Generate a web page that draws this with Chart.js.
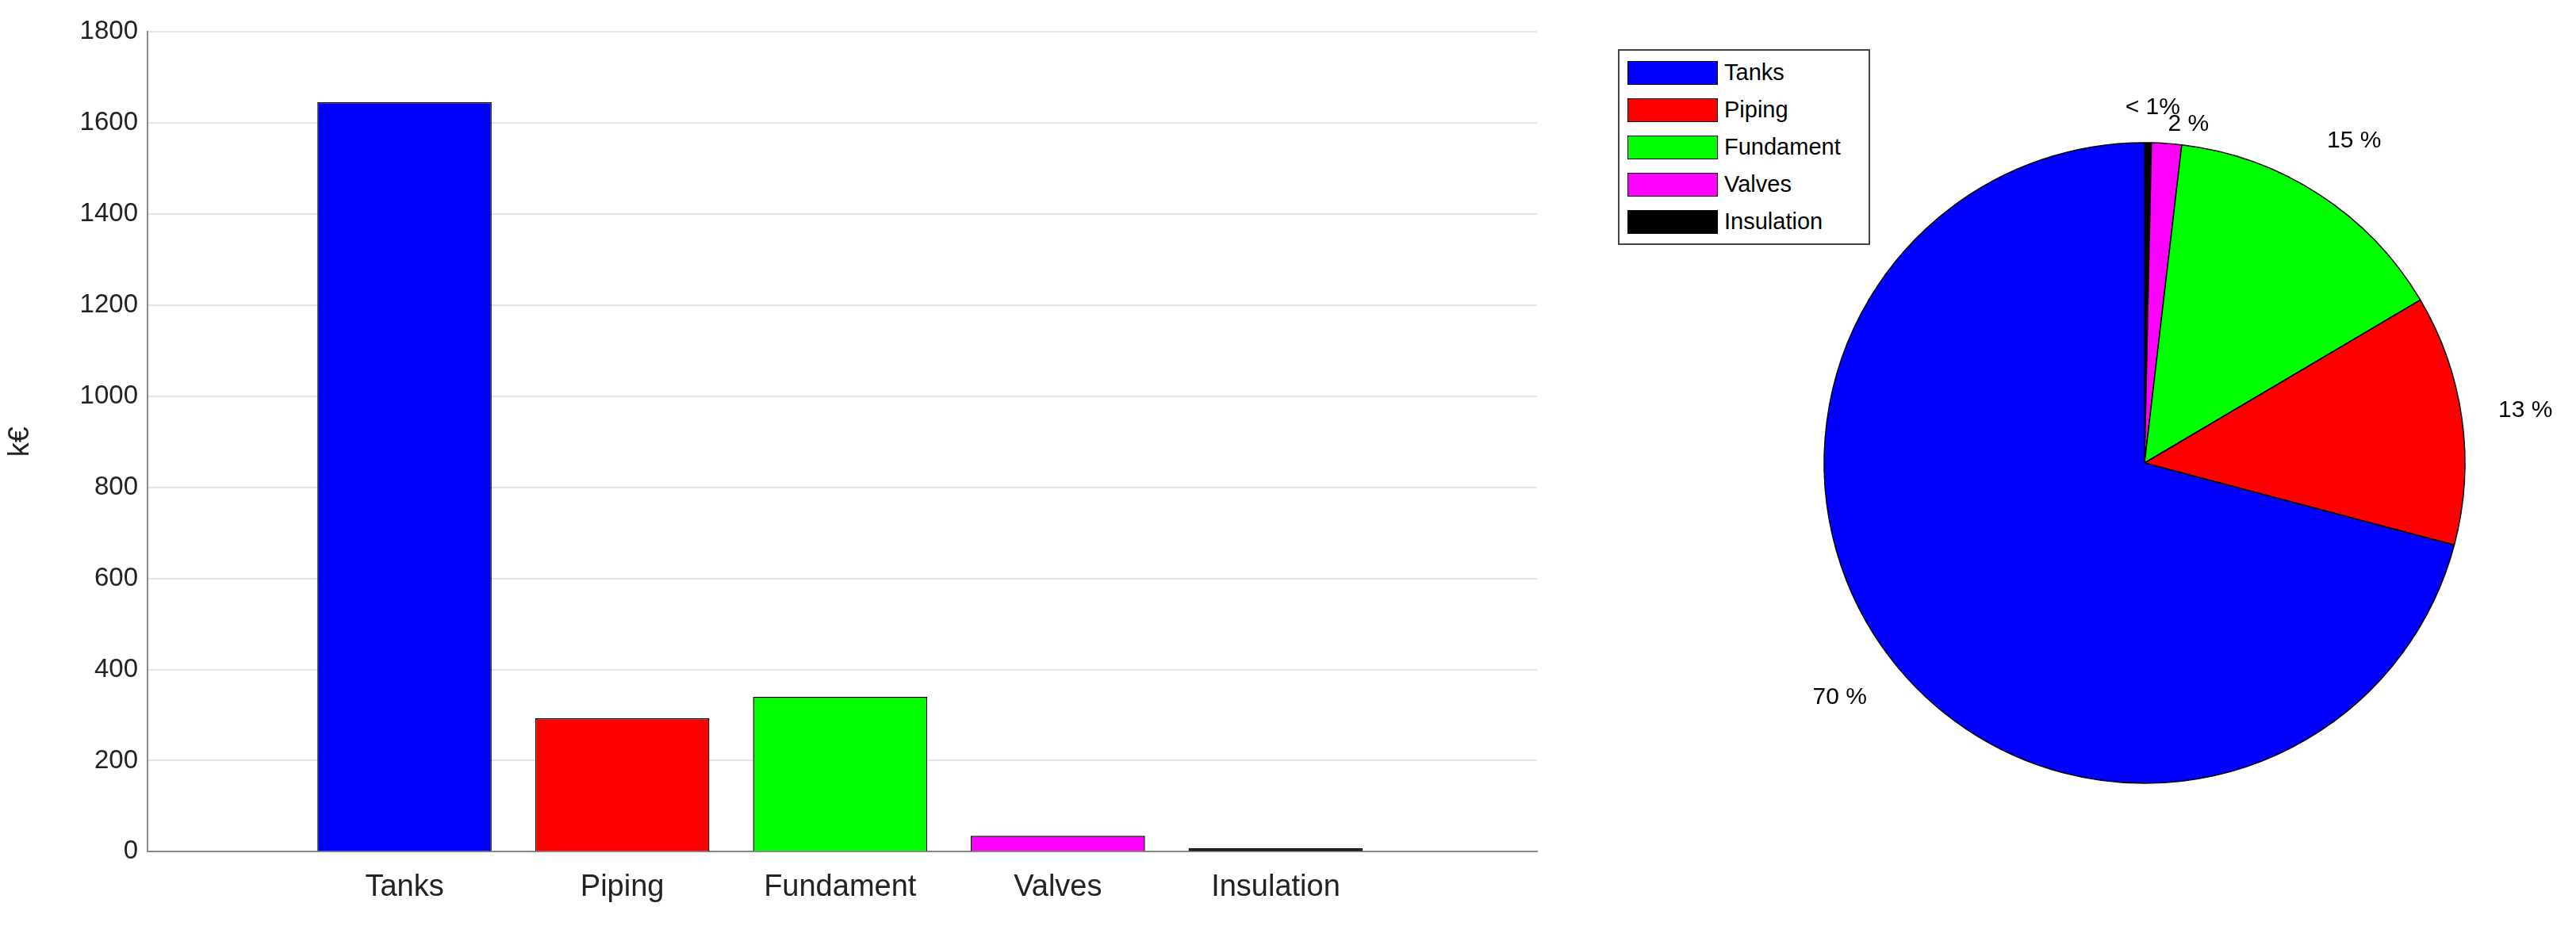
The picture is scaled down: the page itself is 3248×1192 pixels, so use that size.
<!DOCTYPE html>
<html>
<head>
<meta charset="utf-8">
<script src="https://cdn.jsdelivr.net/npm/chart.js@4"></script>
<style>
  body { margin: 0; background: #fff; font-family: Arial, "Liberation Sans", sans-serif; }
  #wrap { position: relative; width: 3248px; height: 1192px; }
  #barBox { position: absolute; left: 0; top: 0; width: 1990px; height: 1192px; }
  #pieBox { position: absolute; left: 2154px; top: 34px; width: 1100px; height: 1100px; }
  #legend { position: absolute; left: 2040px; top: 62px; width: 314px; border: 2px solid #444;
            background: #fff; z-index: 2; padding: 4px 0; }
  .row { display: flex; align-items: center; height: 47px; font-size: 29px; color: #000; }
  .sw { width: 112px; height: 28px; border: 1px solid #000; margin: 0 8px 0 10px; }
</style>
</head>
<body>
<div id="wrap">
  <div id="barBox"><canvas id="barChart"></canvas></div>
  <div id="pieBox"><canvas id="pieChart"></canvas></div>
  <div id="legend"></div>
</div>
<script>
const categories = ['Tanks', 'Piping', 'Fundament', 'Valves', 'Insulation'];
const costs = [1645, 293, 340, 35, 8];
const colors = ['#0000ff', '#ff0000', '#00ff00', '#ff00ff', '#000000'];
const pieLabels = ['70 %', '13 %', '15 %', '2 %', '< 1%'];
const yTicks = [0, 200, 400, 600, 800, 1000, 1200, 1400, 1600, 1800];

// bar chart on a linear x axis so the margins match the original
new Chart(document.getElementById('barChart'), {
    type: 'bar',
    data: {
        datasets: [{
            data: costs.map((v, i) => ({ x: i + 1, y: v })),
            backgroundColor: colors,
            borderColor: '#000',
            borderWidth: 1.5,
            categoryPercentage: 0.8,
            barPercentage: 1
        }]
    },
    options: {
        responsive: true, maintainAspectRatio: false, animation: false,
        layout: { padding: { top: 40, right: 52, bottom: 36, left: 0 } },
        plugins: { legend: { display: false }, tooltip: { enabled: false } },
        scales: {
            x: {
                type: 'linear', min: -0.18, max: 6.2, offset: false,
                afterBuildTicks: axis => { axis.ticks = categories.map((c, i) => ({ value: i + 1 })); },
                ticks: { callback: v => categories[v - 1], color: '#222', font: { size: 38 }, padding: 14 },
                grid: { display: false, offset: false },
                border: { color: '#888', width: 2 }
            },
            y: {
                min: 0, max: 1800,
                afterBuildTicks: axis => { axis.ticks = yTicks.map(v => ({ value: v })); },
                afterFit: axis => { axis.width = 186; },
                ticks: { callback: v => String(v), color: '#222', font: { size: 33 }, padding: 12 },
                title: { display: true, text: 'k€', color: '#222', font: { size: 36 } },
                grid: { color: '#e6e6e6', lineWidth: 2, tickLength: 0 },
                border: { color: '#888', width: 2 }
            }
        }
    }
});

// reversed order so slices run counter-clockwise from the top
const pieData = {
    labels: pieLabels.slice().reverse(),
    values: costs.slice().reverse(),
    colors: colors.slice().reverse()
};

// percent labels outside the pie
const pieText = {
    id: 'pieText',
    afterDatasetsDraw(chart) {
        const ctx = chart.ctx;
        const meta = chart.getDatasetMeta(0);
        ctx.save();
        ctx.font = '30px Arial, "Liberation Sans", sans-serif';
        ctx.fillStyle = '#000';
        ctx.textBaseline = 'middle';
        meta.data.forEach((arc, i) => {
            const a = (arc.startAngle + arc.endAngle) / 2;
            let r = arc.outerRadius * 1.2;
            ctx.textAlign = 'center';
            // the two thin slices at the top would overlap
            if (Math.abs(Math.cos(a)) < 0.15) {
                ctx.textAlign = i === 0 ? 'right' : 'left';
                r = arc.outerRadius * (i === 0 ? 1.11 : 1.06);
            }
            const dx = i === 0 ? 40 : 0;
            ctx.fillText(pieData.labels[i], arc.x + Math.cos(a) * r + dx, arc.y + Math.sin(a) * r);
        });
        ctx.restore();
    }
};

new Chart(document.getElementById('pieChart'), {
    type: 'pie',
    data: {
        labels: pieData.labels,
        datasets: [{
            data: pieData.values,
            backgroundColor: pieData.colors,
            borderColor: '#000',
            borderWidth: 1.5
        }]
    },
    options: {
        responsive: true, maintainAspectRatio: false, animation: false,
        radius: 404,
        layout: { padding: 0 },
        plugins: { legend: { display: false }, tooltip: { enabled: false } }
    },
    plugins: [pieText]
});

const legend = document.getElementById('legend');
categories.forEach((c, i) => {
    const row = document.createElement('div');
    row.className = 'row';
    row.innerHTML = '<div class="sw" style="background:' + colors[i] + '"></div><span>' + c + '</span>';
    legend.appendChild(row);
});
</script>
</body>
</html>
